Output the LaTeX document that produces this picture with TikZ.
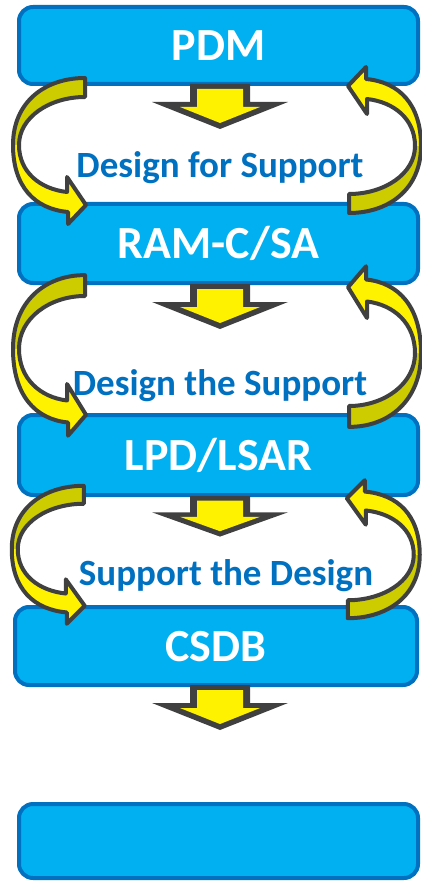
\documentclass[tikz,border=0pt]{standalone}
\usepackage{fontspec}
\setmainfont{Carlito}
\usetikzlibrary{calc}
\definecolor{boxfill}{RGB}{0,176,240}
\definecolor{boxline}{RGB}{0,112,192}
\definecolor{arrowline}{RGB}{64,64,64}
\definecolor{backside}{RGB}{204,204,0}

\tikzset{
  stage/.style={rectangle,draw=boxline,fill=boxfill,line width=4pt,rounded corners=14pt,
    minimum width=399pt,minimum height=77pt,inner sep=0pt,text=white,
    font=\fontsize{46}{46}\selectfont\bfseries,text height=30pt,text depth=0pt},
  motto/.style={text=boxline,font=\fontsize{37}{37}\selectfont\bfseries,anchor=base},
  bend arrow/.pic={
    % back of the ribbon
    \fill[backside] (85,-69) .. controls (45,-69) and (13,-45) .. (13,-2) -- (19,-2)
      .. controls (19,-30) and (50,-50) .. (85,-50) -- cycle;
    % front of the ribbon
    \fill[yellow] (13,-2) .. controls (13,40) and (35,62) .. (68,65) -- (68,77) -- (86,58)
      -- (67,30) -- (67,45) .. controls (40,42) and (19,25) .. (19,-2) -- cycle;
    \draw[arrowline,line width=4pt,line join=round] (85,-69) .. controls (45,-69) and (13,-45) .. (13,-2)
      .. controls (13,40) and (35,62) .. (68,65) -- (68,77) -- (86,58) -- (67,30) -- (67,45)
      .. controls (40,42) and (19,25) .. (19,-2) .. controls (19,-30) and (50,-50) .. (85,-50) -- cycle;
  },
  down arrow/.pic={
    % grey outline, then the yellow inside
    \fill[arrowline] (-30,-1) -- (-30,17) -- (-68,17) -- (0,44) -- (68,17) -- (30,17) -- (30,-1) -- cycle;
    \fill[yellow] (-23,4) -- (-23,22) -- (-40,22) -- (0,38) -- (40,22) -- (23,22) -- (23,4) -- cycle;
  }
}

\begin{document}
\begin{tikzpicture}[x=1pt,y=-1pt]
\useasboundingbox (0,0) rectangle (421,882);

\path (218.5,45.5) node (pdm) [stage] {PDM};
\path (218.5,243.5) node (ram) [stage,minimum height=79pt] {RAM-C/SA};
\path (218.5,455) node (lpd) [stage,minimum height=80pt] {LPD/LSAR};
\path (216,646) node (csdb) [stage,minimum height=78pt,minimum width=402pt] {CSDB};
\path (218.5,841) node (next) [stage,minimum height=74pt] {};

\path (220,178) node (forsupport) [motto] {Design for Support};
\path (220,395) node (thesupport) [motto] {Design the Support};
\path (226,585) node (thedesign) [motto] {Support the Design};

\path ($(pdm.south)+(1.5,-1)$) pic {down arrow};
\path ($(ram.south)+(1.5,0)$) pic {down arrow};
\path ($(lpd.south)+(1.5,0)$) pic[yscale=0.9] {down arrow};
\path ($(csdb.south)+(4,-1)$) pic {down arrow};

\path ($(pdm.south)!0.5!(ram.north)+(-218.5,3)$) pic {bend arrow};
\path ($(pdm.south)!0.5!(ram.north)+(215.5,0)$) pic[rotate=180] {bend arrow};
\path ($(ram.south)!0.5!(lpd.north)+(-218.5,2)$) pic[yscale=1.1] {bend arrow};
\path ($(ram.south)!0.5!(lpd.north)+(215.5,2)$) pic[rotate=180,yscale=1.1] {bend arrow};
\path ($(lpd.south)!0.5!(csdb.north)+(-218.5,0)$) pic[yscale=0.945] {bend arrow};
\path ($(lpd.south)!0.5!(csdb.north)+(215.5,2)$) pic[rotate=180,yscale=0.945] {bend arrow};
\end{tikzpicture}
\end{document}
